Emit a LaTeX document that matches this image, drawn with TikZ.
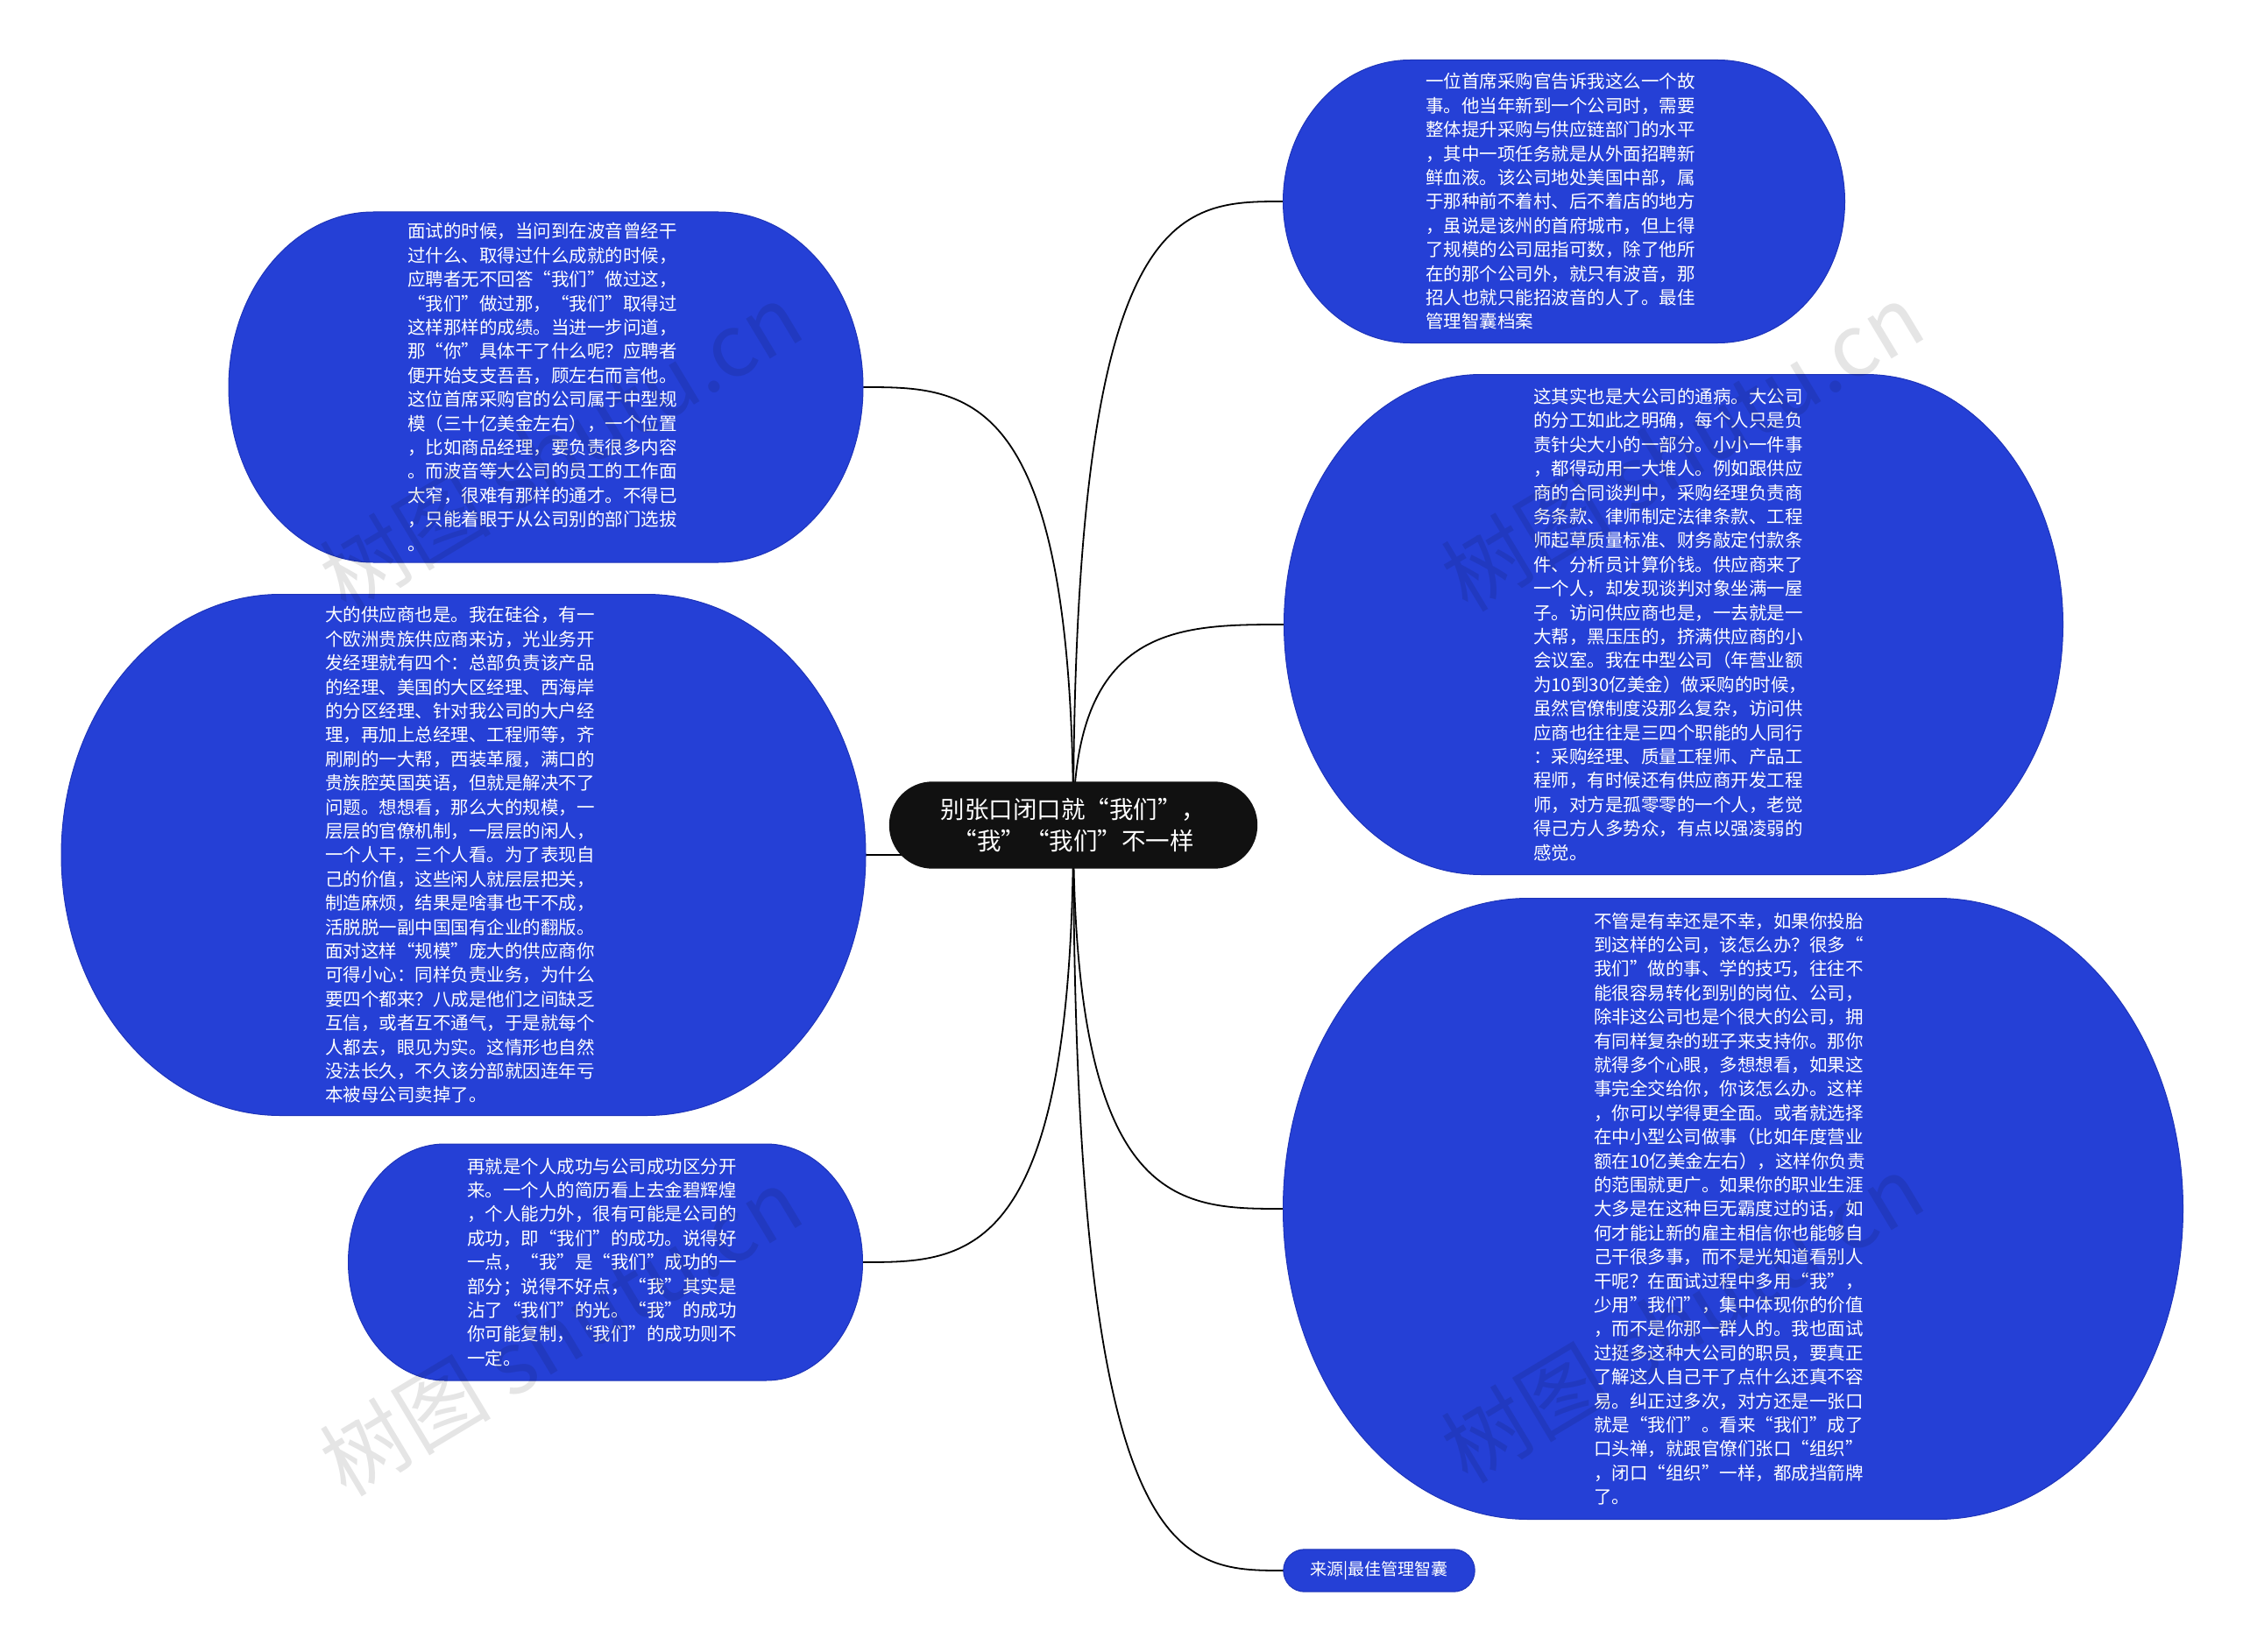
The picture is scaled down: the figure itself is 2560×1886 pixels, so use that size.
\documentclass[tikz,border=0pt]{standalone}
\usepackage{fontspec}
\newfontfamily\cjk{Noto Sans CJK SC}
\usetikzlibrary{calc}
\definecolor{nodeblue}{RGB}{37,64,214}
\definecolor{nodeedge}{RGB}{30,52,185}
\definecolor{rootblack}{RGB}{17,17,17}
% cx, cy, half width, half height, corner x radius
\newcommand\blob[5]{\path[fill=nodeblue,draw=nodeedge,line width=1pt] ({#1-#3+#5},{#2+#4}) -- ({#1+#3-#5},{#2+#4}) arc[start angle=90,end angle=-90,x radius=#5,y radius=#4] -- ({#1-#3+#5},{#2-#4}) arc[start angle=270,end angle=90,x radius=#5,y radius=#4] -- cycle;}
\newcommand\conn[2]{\draw[conn] (#1.center) .. controls (#1.center |- #2) and ($(#1.center |- #2)!0.5!(#2)$) .. (#2);}
\tikzset{
  holder/.style={inner sep=0pt,minimum width=#1},
  conn/.style={draw=black,line width=1.8pt},
  txt/.style={text=white,align=left,inner sep=0pt,xshift=-4pt,font=\cjk\fontsize{20.5}{27.4}\selectfont},
  roottxt/.style={text=white,align=center,inner sep=0pt,font=\cjk\fontsize{27.5}{36.7}\selectfont},
  wm/.style={rotate=31,text=black,opacity=0.1,inner sep=0pt,font=\cjk\fontsize{98}{98}\selectfont}
}
\begin{document}
\begin{tikzpicture}[x=1pt,y=1pt]
\useasboundingbox[fill=white] (0,0) rectangle (2560,-1886);
% name holders
\node[holder=420pt,minimum height=99pt] (root) at (1225,-942) {};
\node[holder=641pt,minimum height=323pt] (tr1) at (1785,-230) {};
\node[holder=724pt,minimum height=400pt] (tl) at (623,-442) {};
\node[holder=889pt,minimum height=571pt] (r2) at (1910,-713) {};
\node[holder=918pt,minimum height=595pt] (l2) at (529,-976) {};
\node[holder=587pt,minimum height=270pt] (l3) at (691,-1441) {};
\node[holder=1027pt,minimum height=709pt] (r3) at (1978,-1380) {};
\node[holder=218pt,minimum height=48pt] (src) at (1574,-1793) {};
% connectors
\conn{root}{tr1.west}
\conn{root}{r2.west}
\conn{root}{r3.west}
\conn{root}{src.west}
\conn{root}{tl.east}
\conn{root}{l2.east}
\conn{root}{l3.east}
% shapes
\blob{1785}{-230}{320.5}{161.5}{145}
\blob{623}{-442}{362}{200}{165}
\blob{1910}{-713}{444.5}{285.5}{225}
\blob{529}{-976}{459}{297.5}{250}
\blob{691}{-1441}{293.5}{135}{110}
\blob{1978}{-1380}{513.5}{354.5}{280}
\path[fill=nodeblue,draw=nodeedge,line width=1pt,rounded corners=24pt] (src.south west) rectangle (src.north east);
\path[fill=rootblack,rounded corners=49.5pt] (root.south west) rectangle (root.north east);
% texts
\node[roottxt] (roottext) at (root.center) {别张口闭口就“我们”，\\“我”“我们”不一样};
\node[txt,xshift=4pt,font=\cjk\fontsize{19}{22}\selectfont] (srctext) at (src.center) {来源|最佳管理智囊};
\node[txt] (tr1text) at (tr1.center) {一位首席采购官告诉我这么一个故\\%
事。他当年新到一个公司时，需要\\%
整体提升采购与供应链部门的水平\\%
，其中一项任务就是从外面招聘新\\%
鲜血液。该公司地处美国中部，属\\%
于那种前不着村、后不着店的地方\\%
，虽说是该州的首府城市，但上得\\%
了规模的公司屈指可数，除了他所\\%
在的那个公司外，就只有波音，那\\%
招人也就只能招波音的人了。最佳\\%
管理智囊档案};
\node[txt] (tltext) at (tl.center) {面试的时候，当问到在波音曾经干\\%
过什么、取得过什么成就的时候，\\%
应聘者无不回答“我们”做过这，\\%
“我们”做过那，“我们”取得过\\%
这样那样的成绩。当进一步问道，\\%
那“你”具体干了什么呢？应聘者\\%
便开始支支吾吾，顾左右而言他。\\%
这位首席采购官的公司属于中型规\\%
模（三十亿美金左右），一个位置\\%
，比如商品经理，要负责很多内容\\%
。而波音等大公司的员工的工作面\\%
太窄，很难有那样的通才。不得已\\%
，只能着眼于从公司别的部门选拔\\%
。};
\node[txt] (r2text) at (r2.center) {这其实也是大公司的通病。大公司\\%
的分工如此之明确，每个人只是负\\%
责针尖大小的一部分。小小一件事\\%
，都得动用一大堆人。例如跟供应\\%
商的合同谈判中，采购经理负责商\\%
务条款、律师制定法律条款、工程\\%
师起草质量标准、财务敲定付款条\\%
件、分析员计算价钱。供应商来了\\%
一个人，却发现谈判对象坐满一屋\\%
子。访问供应商也是，一去就是一\\%
大帮，黑压压的，挤满供应商的小\\%
会议室。我在中型公司（年营业额\\%
为10到30亿美金）做采购的时候，\\%
虽然官僚制度没那么复杂，访问供\\%
应商也往往是三四个职能的人同行\\%
：采购经理、质量工程师、产品工\\%
程师，有时候还有供应商开发工程\\%
师，对方是孤零零的一个人，老觉\\%
得己方人多势众，有点以强凌弱的\\%
感觉。};
\node[txt] (l2text) at (l2.center) {大的供应商也是。我在硅谷，有一\\%
个欧洲贵族供应商来访，光业务开\\%
发经理就有四个：总部负责该产品\\%
的经理、美国的大区经理、西海岸\\%
的分区经理、针对我公司的大户经\\%
理，再加上总经理、工程师等，齐\\%
刷刷的一大帮，西装革履，满口的\\%
贵族腔英国英语，但就是解决不了\\%
问题。想想看，那么大的规模，一\\%
层层的官僚机制，一层层的闲人，\\%
一个人干，三个人看。为了表现自\\%
己的价值，这些闲人就层层把关，\\%
制造麻烦，结果是啥事也干不成，\\%
活脱脱一副中国国有企业的翻版。\\%
面对这样“规模”庞大的供应商你\\%
可得小心：同样负责业务，为什么\\%
要四个都来？八成是他们之间缺乏\\%
互信，或者互不通气，于是就每个\\%
人都去，眼见为实。这情形也自然\\%
没法长久，不久该分部就因连年亏\\%
本被母公司卖掉了。};
\node[txt] (l3text) at (l3.center) {再就是个人成功与公司成功区分开\\%
来。一个人的简历看上去金碧辉煌\\%
，个人能力外，很有可能是公司的\\%
成功，即“我们”的成功。说得好\\%
一点，“我”是“我们”成功的一\\%
部分；说得不好点，“我”其实是\\%
沾了“我们”的光。“我”的成功\\%
你可能复制，“我们”的成功则不\\%
一定。};
\node[txt] (r3text) at (r3.center) {不管是有幸还是不幸，如果你投胎\\%
到这样的公司，该怎么办？很多“\\%
我们”做的事、学的技巧，往往不\\%
能很容易转化到别的岗位、公司，\\%
除非这公司也是个很大的公司，拥\\%
有同样复杂的班子来支持你。那你\\%
就得多个心眼，多想想看，如果这\\%
事完全交给你，你该怎么办。这样\\%
，你可以学得更全面。或者就选择\\%
在中小型公司做事（比如年度营业\\%
额在10亿美金左右），这样你负责\\%
的范围就更广。如果你的职业生涯\\%
大多是在这种巨无霸度过的话，如\\%
何才能让新的雇主相信你也能够自\\%
己干很多事，而不是光知道看别人\\%
干呢？在面试过程中多用“我”，\\%
少用”我们”，集中体现你的价值\\%
，而不是你那一群人的。我也面试\\%
过挺多这种大公司的职员，要真正\\%
了解这人自己干了点什么还真不容\\%
易。纠正过多次，对方还是一张口\\%
就是“我们”。看来“我们”成了\\%
口头禅，就跟官僚们张口“组织”\\%
，闭口“组织”一样，都成挡箭牌\\%
了。};
% watermarks
\node[wm] (wm1) at (640,-510) {树图 shutu.cn};
\node[wm] (wm2) at (1920,-510) {树图 shutu.cn};
\node[wm] (wm3) at (640,-1520) {树图 shutu.cn};
\node[wm] (wm4) at (1920,-1505) {树图 shutu.cn};
\end{tikzpicture}
\end{document}
